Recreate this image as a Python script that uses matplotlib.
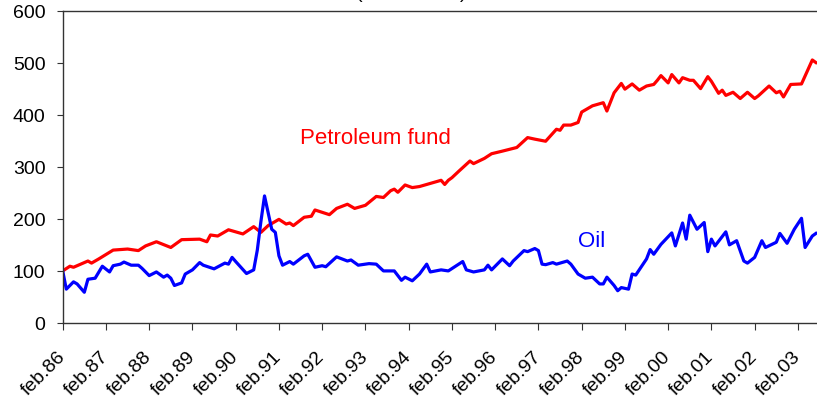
import matplotlib
matplotlib.use("Agg")
import matplotlib.pyplot as plt
import numpy as np

plt.rcParams['font.family'] = ['Liberation Sans', 'DejaVu Sans']

# Months since feb.86
fund_month = [0, 2, 3, 7, 8, 10, 14, 18, 21, 23, 26, 30, 33, 38, 40, 41, 43, 46, 50, 53,
              55, 57, 60, 62, 63, 64, 67, 69, 70, 74, 76, 79, 81, 84, 87, 89, 91, 92, 93,
              95, 97, 99, 101, 104, 105, 106, 107, 108, 110, 113, 114, 117, 119, 122, 126,
              129, 131, 134, 137, 138, 139, 141, 143, 144, 147, 150, 151, 153, 155, 156,
              158, 160, 162, 164, 165, 166, 168, 169, 171, 172, 174, 175, 177, 179, 180,
              182, 183, 184, 186, 188, 190, 192, 193, 196, 198, 199, 200, 202, 205, 208, 209]
fund_value = [100, 109, 107, 119, 115, 123, 140, 142, 139, 148, 156, 145, 160, 161, 156, 169, 167, 179, 171, 185,
              174, 187, 199, 190, 192, 187, 203, 205, 217, 208, 220, 228, 220, 226, 243, 241, 254, 257, 251,
              265, 260, 262, 266, 272, 274, 266, 274, 279, 292, 311, 306, 316, 325, 330, 337,
              356, 353, 349, 372, 370, 380, 380, 385, 405, 417, 423, 407, 442, 460, 449,
              459, 447, 455, 458, 466, 475, 461, 477, 461, 471, 466, 466, 450, 473, 464,
              441, 447, 437, 443, 431, 443, 431, 436, 455, 442, 445, 434, 458, 459, 505, 500]

oil_month = [0, 1, 3, 4, 6, 7, 9, 11, 13, 14, 16, 17, 19, 21, 22, 24, 26, 28, 29, 30, 31, 33,
             34, 36, 38, 39, 42, 45, 46, 47, 48, 51, 53, 54, 55, 56, 57, 58, 59, 60, 61, 63,
             64, 67, 68, 70, 72, 73, 76, 79, 80, 82, 85, 87, 89, 92, 94, 95, 97, 99, 101, 102,
             105, 107, 109, 111, 112, 114, 117, 118, 119, 122, 124, 125, 128, 129, 131, 132,
             133, 134, 136, 137, 140, 141, 143, 145, 147, 149, 150, 151, 153, 154, 155, 157,
             158, 159, 162, 163, 164, 166, 169, 170, 172, 173, 174, 176, 178, 179, 180, 181,
             184, 185, 187, 189, 190, 192, 194, 195, 198, 199, 201, 203, 205, 206, 208, 209]
oil_value = [100, 65, 79, 75, 59, 84, 86, 109, 98, 110, 113, 117, 111, 111, 105, 91, 98, 88, 92, 86, 72, 77,
             94, 102, 116, 111, 104, 115, 113, 126, 118, 95, 102, 140, 195, 244, 212, 180, 174, 129, 111, 118,
             113, 129, 132, 107, 110, 108, 127, 119, 121, 111, 114, 113, 100, 100, 82, 88, 81, 94, 113, 98,
             102, 100, 109, 118, 102, 98, 102, 111, 102, 123, 110, 119, 139, 137, 143, 139,
             113, 112, 116, 113, 119, 113, 94, 86, 88, 75, 75, 88, 72, 62, 68, 65,
             94, 92, 123, 141, 132, 151, 173, 148, 192, 161, 207, 180, 193, 137, 161, 148,
             175, 150, 158, 119, 115, 126, 158, 145, 155, 172, 153, 180, 201, 145, 167, 172]

tick_labels = ['feb.86', 'feb.87', 'feb.88', 'feb.89', 'feb.90', 'feb.91', 'feb.92', 'feb.93',
               'feb.94', 'feb.95', 'feb.96', 'feb.97', 'feb.98', 'feb.99', 'feb.00', 'feb.01',
               'feb.02', 'feb.03']
y_ticks = [0, 100, 200, 300, 400, 500, 600]

fig = plt.figure(figsize=(8.17, 4.02), dpi=100)
ax = fig.add_axes([62.7 / 817, 78 / 402, 1 - 62.7 / 817, 312.5 / 402])

ax.plot(fund_month, fund_value, color='#FF0000', lw=2.3, solid_joinstyle='round')
ax.plot(oil_month, oil_value, color='#0000FF', lw=2.3, solid_joinstyle='round')

ax.set_xlim(0, 209.3)
ax.set_ylim(0, 600)
ax.set_yticks(y_ticks)
ax.set_yticklabels([str(v) for v in y_ticks], fontsize=14)
ax.set_xticks(np.arange(len(tick_labels)) * 12)
ax.set_xticklabels(tick_labels, fontsize=14, rotation=45, ha='right', va='center',
                   rotation_mode='anchor')
ax.tick_params(axis='y', direction='out', length=4.3, width=0.8, pad=8, color='#333333')
ax.tick_params(axis='x', direction='out', length=4.8, width=0.8, pad=17, color='#333333')
for s in ['left', 'bottom', 'top']:
    ax.spines[s].set_color('#333333')
    ax.spines[s].set_linewidth(1.0)
ax.spines['right'].set_visible(False)

ax.text(86.7, 356, 'Petroleum fund', color='#FF0000', fontsize=16, ha='center', va='center')
ax.text(146.8, 159, 'Oil', color='#0000FF', fontsize=16, ha='center', va='center')

fig.text(0.504, 1.0 + 1.5 / 402, '(feb.86=100)', fontsize=14, ha='center', va='baseline')

fig.savefig('out.png', dpi=100)
